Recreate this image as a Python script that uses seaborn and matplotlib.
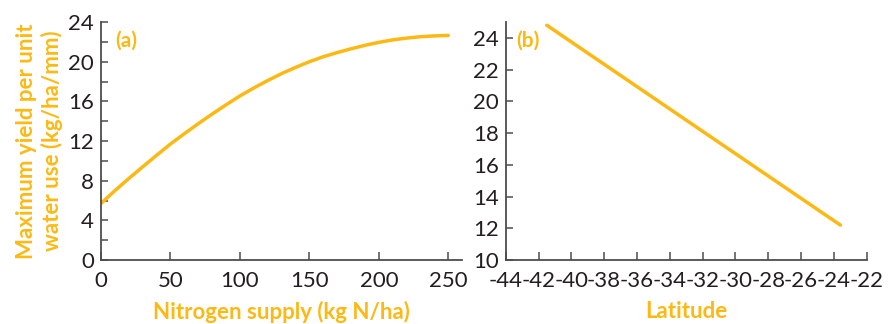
import numpy as np
import pandas as pd
import matplotlib
matplotlib.use("Agg")
import matplotlib.pyplot as plt
import seaborn as sns

# panel (a): nitrogen supply vs max yield per unit water use
nitrogen = [0, 10, 20, 30, 40, 50, 60, 70, 80, 90, 100, 110, 120, 130,
            140, 150, 160, 170, 180, 190, 200, 210, 220, 230, 240, 250]
yield_wu = [5.7, 7.0, 8.22, 9.4, 10.56, 11.7, 12.74, 13.75, 14.72, 15.65,
            16.55, 17.35, 18.1, 18.8, 19.42, 20.0, 20.5, 20.92, 21.3, 21.65,
            21.95, 22.2, 22.38, 22.52, 22.6, 22.65]

# panel (b): latitude trend
latitude = [-41.5, -23.6]
yield_lat = [24.8, 12.2]

orange = "#FDB913"
spine_col = "#4d4d4d"
txt_col = "#231F20"

sns.set_style("ticks")
plt.rcParams["font.family"] = ["Lato", "DejaVu Sans"]

df_a = pd.DataFrame({"N": nitrogen, "Y": yield_wu})
df_b = pd.DataFrame({"Lat": latitude, "Y": yield_lat})

fig = plt.figure(figsize=(8.94, 3.24), dpi=100)
ax1 = fig.add_axes([0.113, 0.1975, 0.404, 0.7345])
ax2 = fig.add_axes([0.5657, 0.1975, 0.4037, 0.7345])

sns.lineplot(data=df_a, x="N", y="Y", ax=ax1, color=orange, linewidth=2.5)
sns.lineplot(data=df_b, x="Lat", y="Y", ax=ax2, color=orange, linewidth=2.5)

ax1.set_xlim(0, 260)
ax1.set_ylim(0, 24)
ax1.set_xticks(np.arange(0, 251, 50))
ax1.set_yticks(np.arange(0, 25, 4))
ax1.set_yticks(np.arange(2, 24, 4), minor=True)

ax2.set_xlim(-44, -22)
ax2.set_ylim(10, 25)
ax2.set_xticks(np.arange(-44, -21, 2))
ax2.set_yticks(np.arange(10, 25, 2))
ax2.set_xticklabels([str(v) for v in range(-44, -21, 2)])

for ax in (ax1, ax2):
    for s in ("top", "right"):
        ax.spines[s].set_visible(False)
    for s in ("left", "bottom"):
        ax.spines[s].set_color(spine_col)
        ax.spines[s].set_linewidth(1.3)
    ax.tick_params(axis="both", which="both", direction="in", color=spine_col,
                   width=1.1, labelsize=16, labelcolor=txt_col)
    ax.tick_params(axis="y", which="both", length=5, pad=5)
    ax.tick_params(axis="x", which="major", length=6, pad=8)
    ax.set_facecolor("white")

ax1.set_xlabel("Nitrogen supply (kg N/ha)", fontsize=16, fontweight="bold",
               color=orange, labelpad=7)
ax1.set_ylabel("Maximum yield per unit\nwater use (kg/ha/mm)", fontsize=16,
               fontweight="bold", color=orange, labelpad=4, linespacing=1.2)
ax2.set_xlabel("Latitude", fontsize=16, fontweight="bold", color=orange, labelpad=7)
ax2.set_ylabel("")

ax1.text(0.039, 0.92, "(a)", transform=ax1.transAxes, fontsize=15,
         fontweight="bold", color=orange, ha="left", va="center")
ax2.text(0.030, 0.92, "(b)", transform=ax2.transAxes, fontsize=15,
         fontweight="bold", color=orange, ha="left", va="center")

fig.savefig("out.png", dpi=100, facecolor="white")
